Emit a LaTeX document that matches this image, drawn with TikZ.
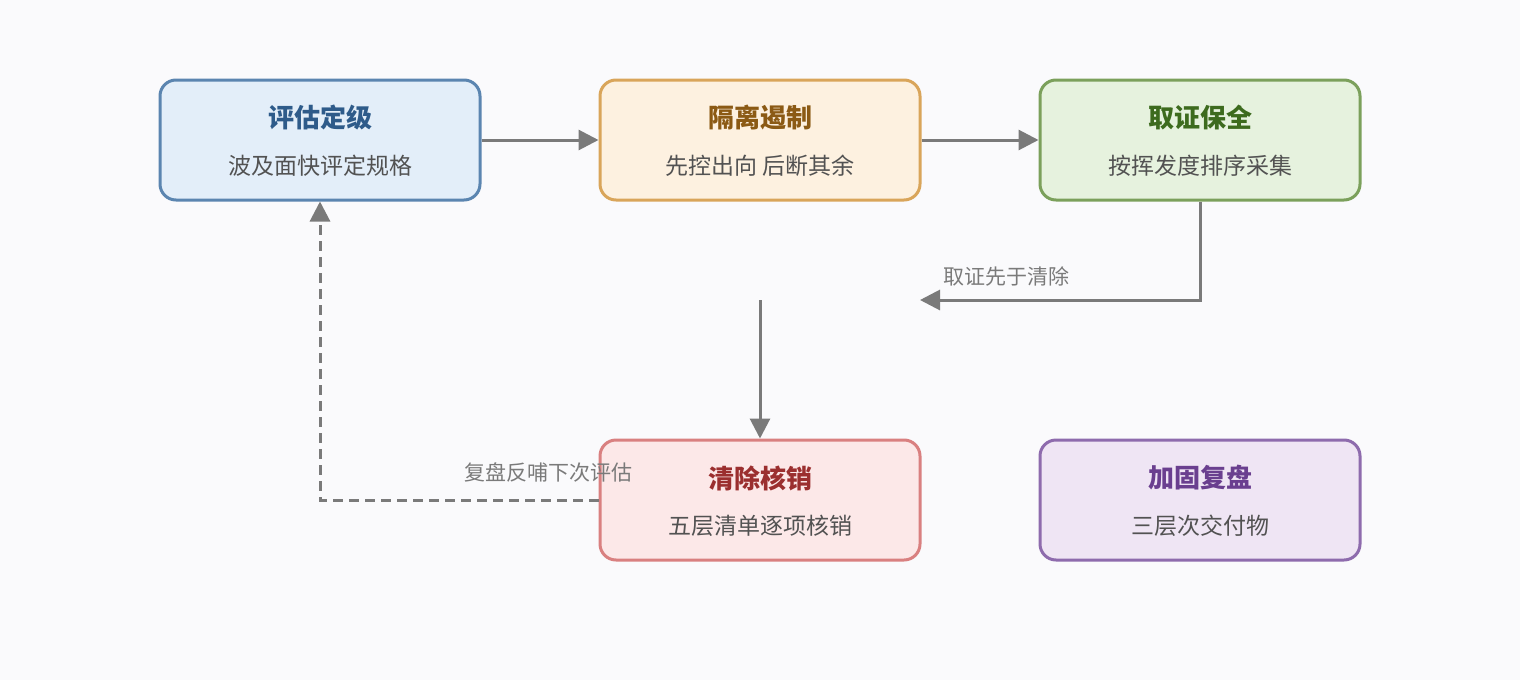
\documentclass[tikz,border=0pt]{standalone}
\usepackage{fontspec}
\setmainfont{Noto Sans CJK SC}
\usetikzlibrary{arrows.meta}
\definecolor{bg}{HTML}{FAFAFC}
\definecolor{ag}{HTML}{7A7A7A}
\definecolor{ad}{HTML}{5B85B0}\definecolor{af}{HTML}{E3EEF9}\definecolor{at}{HTML}{2E5B8A}
\definecolor{bd}{HTML}{D9A55A}\definecolor{bf}{HTML}{FDF1E0}\definecolor{bt}{HTML}{8B5A14}
\definecolor{cd}{HTML}{7BA05B}\definecolor{cf}{HTML}{E6F2DE}\definecolor{ct}{HTML}{3D6B1E}
\definecolor{dd}{HTML}{D98080}\definecolor{df}{HTML}{FCE8E8}\definecolor{dt}{HTML}{9B2F2F}
\definecolor{ed}{HTML}{8E6BAD}\definecolor{ef}{HTML}{EFE5F4}\definecolor{et}{HTML}{6A3F8F}
\tikzset{
 box/.style={draw, line width=3pt, rounded corners=16pt, minimum width=320pt, minimum height=120pt},
 ttl/.style={font=\fontsize{26}{30}\selectfont\bfseries},
 sub/.style={font=\fontsize{23}{28}\selectfont, text=black!68},
 arr/.style={draw=ag, line width=3pt, -{Triangle[length=20pt,width=20pt]}},
 lbl/.style={font=\fontsize{21}{25}\selectfont, text=ag},
}
\newcommand{\mybox}[8]{%
 \node[box, draw=#4, fill=#5] (#1) at (#2,#3) {};
 \node[ttl, text=#6] (#1t) at (#2,#3-22) {#7};
 \node[sub] (#1s) at (#2,#3+26) {#8};}
\begin{document}
\begin{tikzpicture}[x=1pt,y=-1pt]
\fill[bg] (0,0) rectangle (1520,680);
\useasboundingbox (0,0) rectangle (1520,680);
\mybox{a}{320}{140}{ad}{af}{at}{评估定级}{波及面快评定规格}
\mybox{b}{760}{140}{bd}{bf}{bt}{隔离遏制}{先控出向 后断其余}
\mybox{c}{1200}{140}{cd}{cf}{ct}{取证保全}{按挥发度排序采集}
\mybox{d}{760}{500}{dd}{df}{dt}{清除核销}{五层清单逐项核销}
\mybox{e}{1200}{500}{ed}{ef}{et}{加固复盘}{三层次交付物}
\coordinate (p1) at (920,300);
\coordinate (p2) at (760,300);
\draw[arr] (a) -- (b);
\draw[arr] (b) -- (c);
\draw[arr] (c.south) |- (p1);
\draw[arr] (p2) -- (d.north);
\draw[arr, dash pattern=on 10pt off 6pt] (d.west) -| (a.south);
\node[lbl] (l1) at (1006,276) {取证先于清除};
\node[lbl] (l2) at (548,472) {复盘反哺下次评估};
\end{tikzpicture}
\end{document}
